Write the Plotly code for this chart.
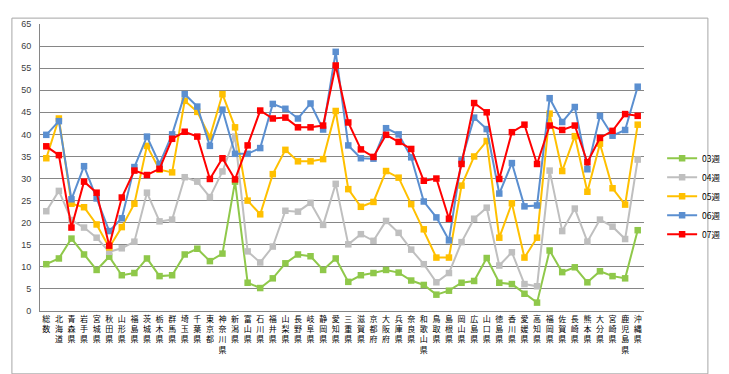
import plotly.graph_objects as go

categories = ["総数", "北海道", "青森県", "岩手県", "宮城県", "秋田県", "山形県", "福島県",
              "茨城県", "栃木県", "群馬県", "埼玉県", "千葉県", "東京都", "神奈川県",
              "新潟県", "富山県", "石川県", "福井県", "山梨県", "長野県", "岐阜県",
              "静岡県", "愛知県", "三重県", "滋賀県", "京都府", "大阪府", "兵庫県",
              "奈良県", "和歌山県", "鳥取県", "島根県", "岡山県", "広島県", "山口県",
              "徳島県", "香川県", "愛媛県", "高知県", "福岡県", "佐賀県", "長崎県",
              "熊本県", "大分県", "宮崎県", "鹿児島県", "沖縄県"]

w03 = [10.6, 11.9, 16.4, 12.8, 9.3, 12.3, 8.1, 8.6, 11.9, 7.9, 8.1, 12.8, 14.1, 11.3, 13.0,
       29.3, 6.4, 5.2, 7.4, 10.8, 12.8, 12.4, 9.3, 11.9, 6.6, 8.1, 8.6, 9.3, 8.7, 6.9,
       5.9, 3.7, 4.6, 6.4, 6.8, 12.0, 6.4, 6.1, 3.9, 1.9, 13.7, 8.8, 9.9, 6.5, 9.0, 7.9, 7.4, 18.3]
w04 = [22.6, 27.2, 20.6, 18.9, 16.6, 13.4, 14.2, 15.7, 26.8, 20.3, 20.7, 30.3, 29.3, 25.8, 31.6,
       39.5, 13.5, 11.0, 14.6, 22.7, 22.5, 24.5, 19.5, 28.8, 15.1, 17.4, 15.9, 20.4, 17.7, 13.9,
       10.6, 6.5, 8.6, 15.6, 20.9, 23.4, 10.3, 13.3, 6.1, 5.6, 31.8, 18.1, 23.2, 15.7, 20.7, 19.1, 16.3, 34.3]
w05 = [34.6, 43.6, 24.3, 23.5, 19.6, 14.4, 19.0, 24.3, 37.4, 32.0, 31.4, 47.6, 45.1, 39.4, 49.1,
       41.6, 25.0, 21.9, 31.0, 36.5, 33.9, 33.9, 34.4, 45.3, 27.6, 23.6, 24.7, 31.7, 30.2, 24.2,
       18.5, 12.1, 12.1, 28.4, 35.0, 38.5, 16.6, 24.4, 12.1, 16.6, 44.7, 31.7, 39.6, 27.0, 37.9, 27.8, 24.1, 42.2]
w06 = [39.9, 43.0, 25.3, 32.8, 25.5, 18.1, 21.0, 32.6, 39.5, 33.3, 40.0, 49.1, 46.3, 37.4, 45.6,
       35.6, 35.6, 36.9, 46.9, 45.8, 43.6, 47.0, 41.1, 58.7, 37.5, 34.6, 34.5, 41.4, 40.0, 34.8,
       24.8, 21.2, 16.0, 34.1, 43.8, 41.2, 26.6, 33.5, 23.7, 23.9, 48.2, 42.8, 46.2, 32.1, 44.2, 39.7, 41.0, 50.8]
w07 = [37.3, 35.3, 18.9, 29.3, 26.8, 14.8, 25.7, 31.8, 30.8, 32.2, 39.0, 40.6, 39.5, 29.9, 34.6,
       29.8, 37.5, 45.4, 43.6, 43.8, 41.6, 41.6, 42.0, 55.6, 42.7, 36.6, 34.9, 39.9, 38.3, 36.7,
       29.5, 30.0, 20.9, 33.3, 47.1, 45.0, 29.9, 40.5, 42.2, 33.3, 42.0, 41.0, 42.0, 33.7, 39.2, 40.8, 44.6, 44.2]

series_names = ["03週", "04週", "05週", "06週", "07週"]
series_values = [w03, w04, w05, w06, w07]
series_colors = ["#8fc84a", "#bfbfbf", "#ffc000", "#5b8fd0", "#ff0000"]

tick_text = ["<br>".join(list(c)) for c in categories]
xpos = list(range(len(categories)))

fig = go.Figure()
for name, vals, col in zip(series_names, series_values, series_colors):
    fig.add_trace(go.Scatter(
        x=xpos, y=vals, name=name, mode="lines+markers",
        line=dict(color=col, width=2),
        marker=dict(symbol="square", size=6.5, color=col),
    ))

fig.update_layout(
    width=729, height=374,
    margin=dict(l=32, r=73, t=11, b=71),
    paper_bgcolor="white", plot_bgcolor="white",
    font=dict(family="Noto Sans CJK JP, Liberation Sans, sans-serif", color="#000000"),
    showlegend=True,
    legend=dict(x=1.03, y=0.40, xanchor="left", yanchor="middle",
                font=dict(size=8.5, color="#000000"), bgcolor="rgba(0,0,0,0)",
                itemwidth=30, tracegroupgap=0),
    xaxis=dict(
        range=[-0.5, len(categories) - 0.5],
        tickmode="array", tickvals=xpos, ticktext=tick_text,
        tickangle=0, tickfont=dict(size=8, color="#000000"),
        showgrid=False, zeroline=False,
        showline=True, linecolor="#868686", linewidth=1,
        ticks="", ticklen=0,
    ),
    yaxis=dict(
        range=[0, 65], dtick=5, tick0=0,
        tickfont=dict(size=9, family="Liberation Sans, Arial, sans-serif", color="#404040"),
        showgrid=True, gridcolor="#868686", gridwidth=1,
        zeroline=False, showline=True, linecolor="#868686", linewidth=1,
        ticks="", ticklabelstandoff=6,
    ),
    shapes=[dict(type="rect", xref="paper", yref="paper",
                 x0=-0.0465, x1=1.1058, y0=-0.219, y1=1.0205,
                 line=dict(color="#a6a6a6", width=1), layer="below")],
)

fig.write_html("out.html")
